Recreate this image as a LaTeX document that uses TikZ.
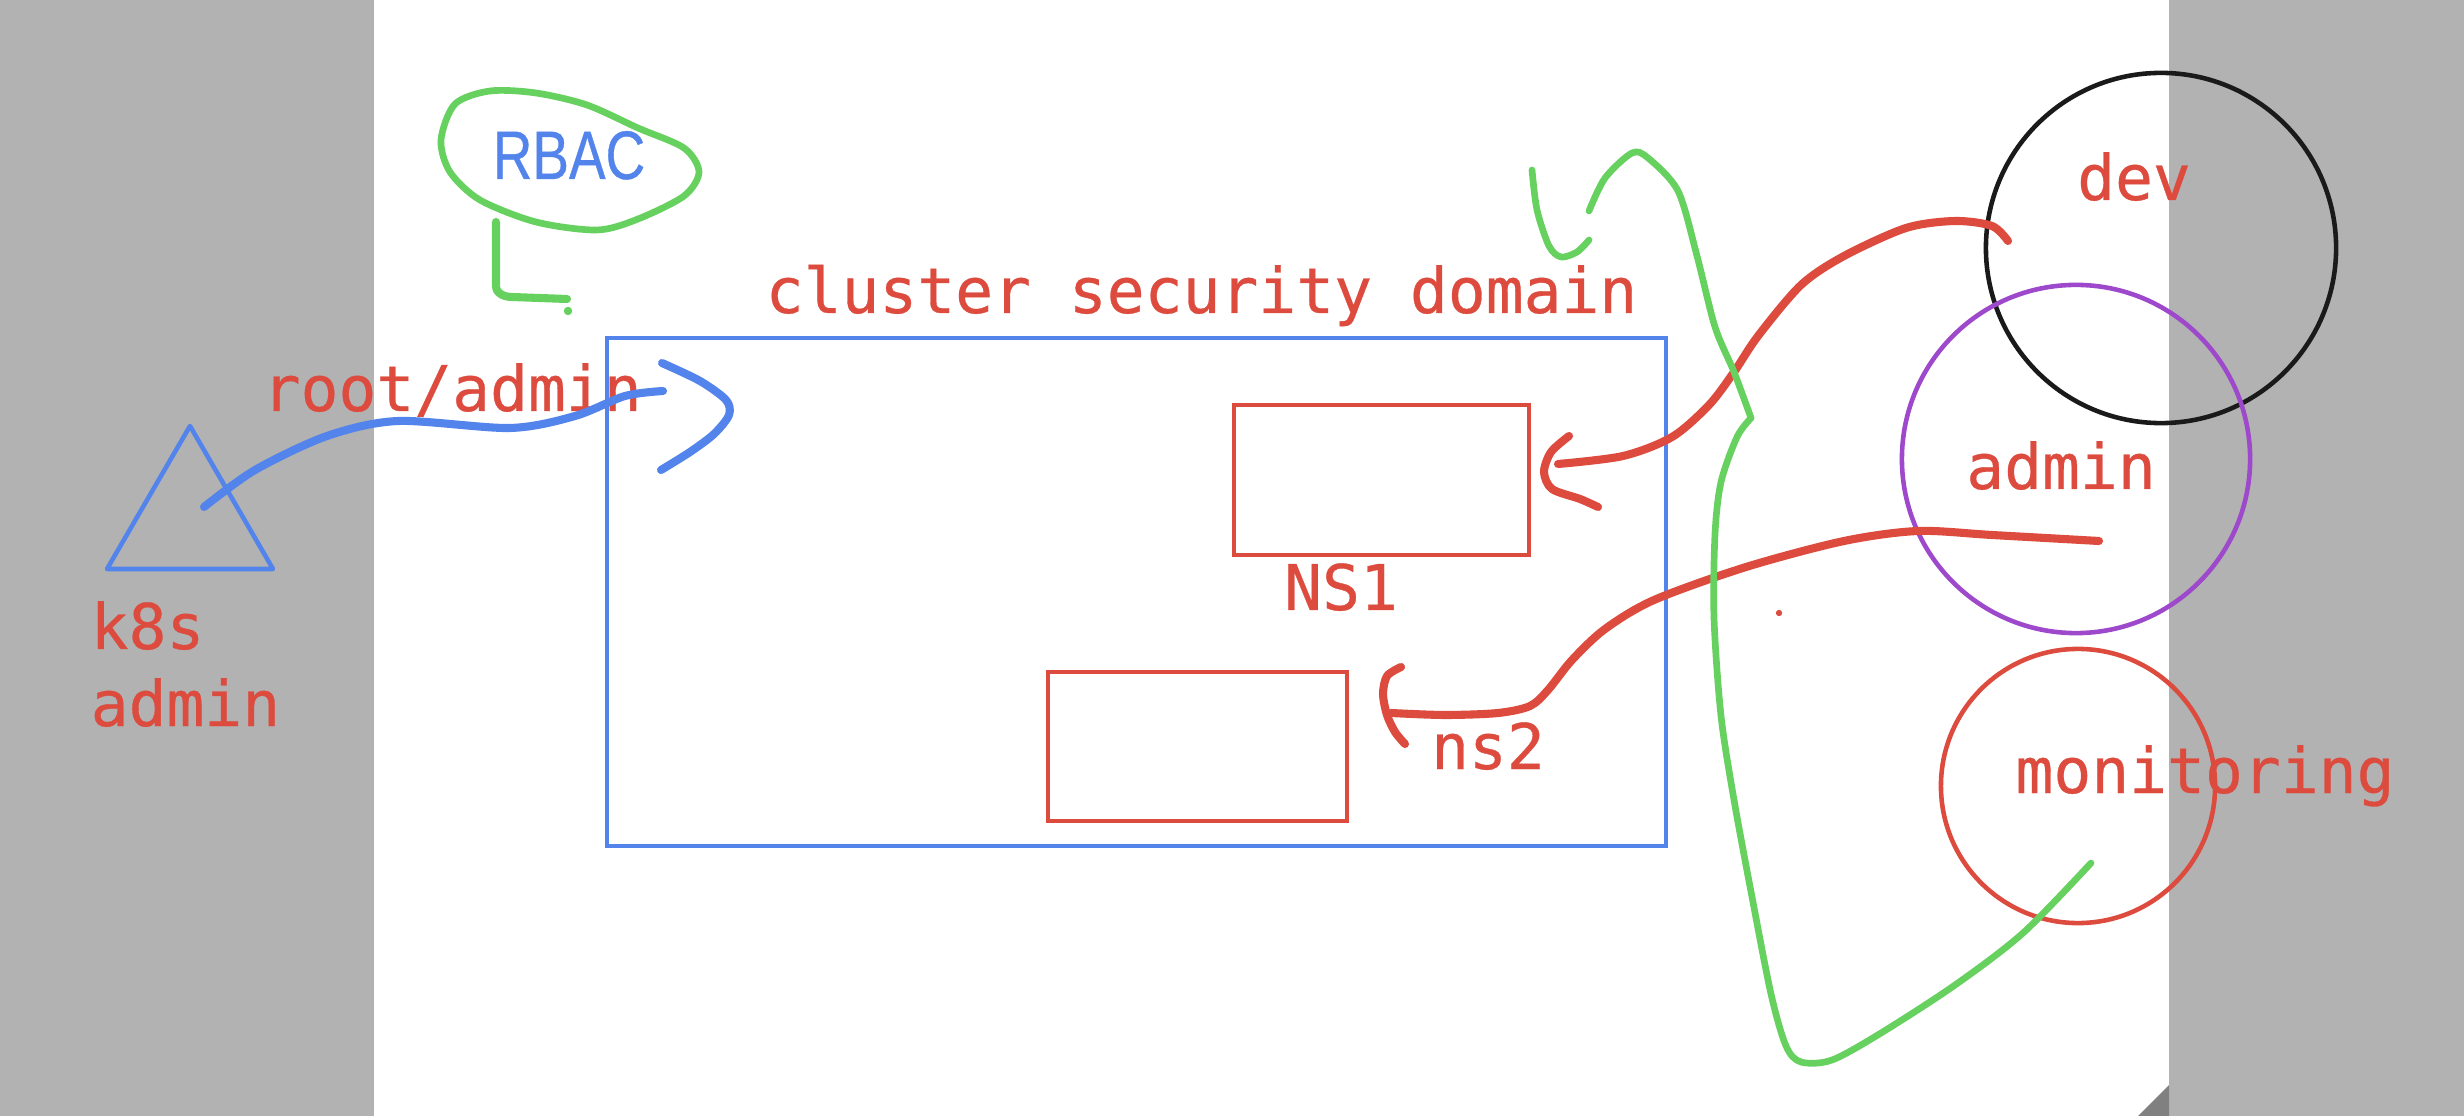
\documentclass[tikz,border=0pt]{standalone}
\usepackage{fontspec}
\setmonofont[FakeBold=0.5]{DejaVu Sans Mono}
\newfontfamily\rbacfont[FakeStretch=0.8,FakeBold=0.5]{Liberation Sans}
\definecolor{sk_red}{RGB}{221,75,62}
\definecolor{sk_blue}{RGB}{83,132,236}
\definecolor{sk_green}{RGB}{103,209,96}
\definecolor{sk_purple}{RGB}{158,72,204}
\definecolor{sk_black}{RGB}{26,26,26}
\definecolor{sk_gray}{RGB}{178,178,178}
\definecolor{sk_dark}{RGB}{128,128,128}
\tikzstyle{box}=[rectangle,draw=sk_red,line width=1.3pt,inner sep=0pt]
\tikzstyle{ns}=[circle,line width=1.3pt,inner sep=0pt]
\tikzstyle{lbl}=[text=sk_red,inner sep=0pt,font=\fontsize{17.9}{22}\selectfont\ttfamily]
\tikzstyle{pen}=[line width=2.3pt,line cap=round,line join=round]
\tikzstyle{thinpen}=[line width=1.9pt,line cap=round,line join=round]
\begin{document}
\begin{tikzpicture}[x=0.01cm, y=-0.01cm]
            \useasboundingbox (0,0) rectangle (2464,1116);
            \fill [white] (0,0) rectangle (2464,1116);
            \fill [sk_gray] (0,0) rectangle (374,1116);
            \fill [sk_gray] (2169,0) rectangle (2464,1116);
            \fill [sk_dark] (2138,1116) -- (2169,1085) -- (2169,1116) -- cycle;
            \node [style=box, draw=sk_blue, line width=1.2pt, minimum width=10.59cm, minimum height=5.07cm] (csd_box) at (1136.5,592) {};
            \node [style=box, minimum width=2.95cm, minimum height=1.5cm] (ns1_box) at (1381.5,480) {};
            \node [style=box, minimum width=2.99cm, minimum height=1.49cm] (ns2_box) at (1197.5,746.5) {};
            \node [style=ns, draw=sk_black, minimum size=3.5cm] (dev) at (2161,248) {};
            \node [style=ns, draw=sk_purple, minimum size=3.48cm] (admin) at (2076,459) {};
            \node [style=ns, draw=sk_red, minimum size=2.74cm] (mon) at (2078,786) {};
            \node [lbl, anchor=base west] (csd) at (765,313) {cluster security domain};
            \node [lbl, anchor=base west] (root) at (262,411) {root/admin};
            \node [lbl, anchor=base west] (k8s) at (90,649) {k8s};
            \node [lbl, anchor=base west] (k8s_admin) at (90,726) {admin};
            \node [lbl, anchor=base] (ns1) at (1341,610) {NS1};
            \node [lbl, anchor=base] (ns2) at (1488,769) {ns2};
            \node [lbl, anchor=base] (dev_lbl) at (2134,200) {dev};
            \node [lbl, anchor=base] (admin_lbl) at (2061,489) {admin};
            \node [lbl, anchor=base] (mon_lbl) at (2205,793) {monitoring};
            \node [anchor=base, inner sep=0pt, text=sk_blue, font=\fontsize{19.5}{22}\rbacfont] (rbac) at (569,179) {RBAC};
            \coordinate (ka) at (204,507);
            \coordinate (ra) at (663,391);
            \coordinate (dv) at (2008,241);
            \coordinate (n1) at (1558,464);
            \coordinate (ad) at (2099,541);
            \coordinate (n2) at (1391,713);
            \coordinate (mo) at (2091,863);
            \draw [sk_blue, line width=1.3pt, line join=round] (190,426) -- (107,569) -- (273,569) -- cycle;
            \draw [pen, sk_blue] plot [smooth] coordinates {(ka) (255,470) (327,436) (398,421) (510,428) (575,416) (625,396) (ra)};
            \draw [pen, sk_blue] plot [smooth] coordinates {(662,363) (700,381) (726,400) (729,415) (714,434) (690,452) (661,470)};
            \draw [thinpen, sk_green] plot [smooth cycle] coordinates {(441,140) (455,104) (490,91) (536,93) (587,105) (638,128) (684,148) (699,172) (684,196) (638,219) (597,230) (536,222) (480,200) (450,172)};
            \draw [pen, sk_green] (496,222) -- (496,286) to [out=-90, in=180] (512,297) -- (567,299);
            \fill [sk_green] (568,311) circle (1.2pt);
            \draw [pen, sk_red] plot [smooth] coordinates {(dv) (1992,226) (1955,221) (1906,228) (1844,256) (1801,285) (1758,336) (1734,372) (1709,405) (1672,437) (1623,456) (n1)};
            \draw [pen, sk_red] plot [smooth] coordinates {(1569,436) (1551,452) (1544,472) (1552,489) (1580,499) (1598,507)};
            \draw [pen, sk_red] plot [smooth] coordinates {(ad) (1992,535) (1918,531) (1844,541) (1746,567) (1654,600) (1605,629) (1572,660) (1548,690) (1530,706) (1498,713) (1445,715) (n2)};
            \draw [pen, sk_red] plot [smooth] coordinates {(1401,667) (1387,676) (1383,694) (1387,715) (1395,732) (1405,744)};
            \fill [sk_red] (1779,613) circle (0.9pt);
            \draw [thinpen, sk_green] plot [smooth] coordinates {(1532,170) (1537,210) (1549,246) (1561,257) (1577,252) (1589,240)};
            \draw [thinpen, sk_green] plot [smooth] coordinates {(1589,211) (1605,178) (1632,153) (1648,158) (1678,191) (1697,256) (1715,327) (1734,372) (1751,418)};
            \draw [thinpen, sk_green] plot [smooth] coordinates {(1751,418) (1737,437) (1721,482) (1715,534) (1714,618) (1721,716) (1734,800) (1752,897) (1771,994) (1786,1046) (1801,1062) (1832,1060) (1881,1033) (1955,985) (2023,933) (mo)};
    \end{tikzpicture}
\end{document}
